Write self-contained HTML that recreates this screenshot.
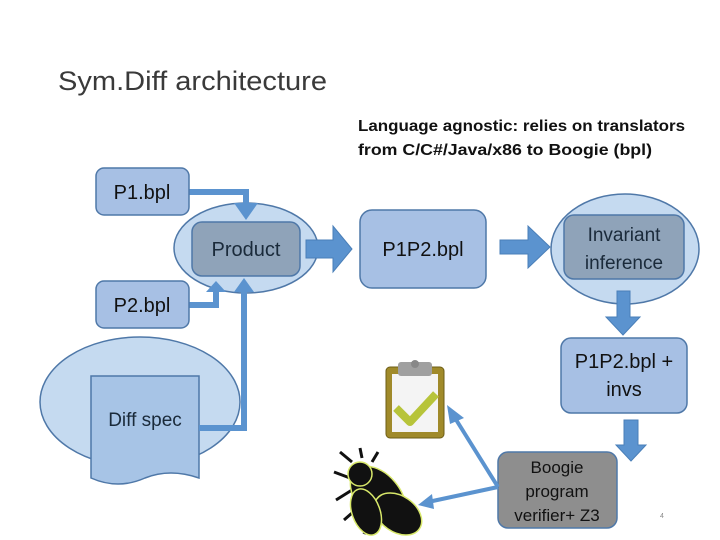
<!DOCTYPE html>
<html><head><style>
body{margin:0;background:#fff;}
svg{display:block;font-family:"Liberation Sans",sans-serif;}
</style></head><body>
<svg width="720" height="540" viewBox="0 0 720 540">
<text x="58" y="90" font-size="27" fill="#3a3a3a" textLength="269" lengthAdjust="spacingAndGlyphs">Sym.Diff architecture</text>
<text x="358" y="131" font-size="16" font-weight="bold" fill="#111" textLength="327" lengthAdjust="spacingAndGlyphs">Language agnostic: relies on translators</text>
<text x="358" y="155" font-size="16" font-weight="bold" fill="#111" textLength="294" lengthAdjust="spacingAndGlyphs">from C/C#/Java/x86 to Boogie (bpl)</text>

<!-- Diff spec ellipse -->
<ellipse cx="140" cy="402" rx="100" ry="65" fill="#c5daf0" stroke="#4f78a8" stroke-width="1.5"/>
<path d="M91,376 H199 V478 Q170,468 145,478 Q118,490 91,478 Z" fill="#a7c4e6" stroke="#4f78a8" stroke-width="1.5"/>
<text x="145" y="426" font-size="19" text-anchor="middle" fill="#1a2a3a">Diff spec</text>

<!-- Product ellipse -->
<ellipse cx="246" cy="248" rx="72" ry="45" fill="#c5daf0" stroke="#4f78a8" stroke-width="1.5"/>
<rect x="192" y="222" width="108" height="54" rx="10" fill="#8fa3b9" stroke="#4f78a8" stroke-width="1.5"/>
<text x="246" y="256" font-size="20" text-anchor="middle" fill="#1a2a3a">Product</text>

<!-- connectors -->
<g fill="none" stroke="#5b93cf" stroke-width="6">
<path d="M189,192 H246 V205"/>
<path d="M189,305 H216 V292"/>
<path d="M199,428 H244 V292"/>
</g>
<polygon points="234,203 258,203 246,220" fill="#5b93cf"/>
<polygon points="206,292 226,292 216,281" fill="#5b93cf"/>
<polygon points="234,292 254,292 244,278" fill="#5b93cf"/>

<rect x="96" y="168" width="93" height="47" rx="8" fill="#a7c0e4" stroke="#4f78a8" stroke-width="1.5"/>
<text x="142" y="199" font-size="20" text-anchor="middle" fill="#111">P1.bpl</text>
<rect x="96" y="281" width="93" height="47" rx="8" fill="#a7c0e4" stroke="#4f78a8" stroke-width="1.5"/>
<text x="142" y="312" font-size="20" text-anchor="middle" fill="#111">P2.bpl</text>

<!-- block arrows -->
<polygon points="306,240 333,240 333,226 352,249 333,272 333,258 306,258" fill="#5b93cf" stroke="#4a7fb8"/>
<polygon points="500,240 528,240 528,226 550,247 528,268 528,254 500,254" fill="#5b93cf" stroke="#4a7fb8"/>

<rect x="360" y="210" width="126" height="78" rx="12" fill="#a7c0e4" stroke="#4f78a8" stroke-width="1.5"/>
<text x="423" y="256" font-size="20" text-anchor="middle" fill="#111">P1P2.bpl</text>

<ellipse cx="625" cy="249" rx="74" ry="55" fill="#c5daf0" stroke="#4f78a8" stroke-width="1.5"/>
<rect x="564" y="215" width="120" height="64" rx="10" fill="#8fa3b9" stroke="#4f78a8" stroke-width="1.5"/>
<text x="624" y="241" font-size="19" text-anchor="middle" fill="#1a2a3a">Invariant</text>
<text x="624" y="269" font-size="19" text-anchor="middle" fill="#1a2a3a">inference</text>

<polygon points="617,291 630,291 630,317 640,317 623,335 606,317 617,317" fill="#5b93cf" stroke="#4a7fb8"/>

<rect x="561" y="338" width="126" height="75" rx="10" fill="#a7c0e4" stroke="#4f78a8" stroke-width="1.5"/>
<text x="624" y="368" font-size="20" text-anchor="middle" fill="#111">P1P2.bpl +</text>
<text x="624" y="396" font-size="20" text-anchor="middle" fill="#111">invs</text>

<polygon points="624,420 638,420 638,445 646,445 631,461 616,445 624,445" fill="#5b93cf" stroke="#4a7fb8"/>

<rect x="498" y="452" width="119" height="76" rx="10" fill="#8e8e8e" stroke="#4f78a8" stroke-width="1.5"/>
<text x="557" y="473" font-size="17" text-anchor="middle" fill="#111">Boogie</text>
<text x="557" y="497" font-size="17" text-anchor="middle" fill="#111">program</text>
<text x="557" y="521" font-size="17" text-anchor="middle" fill="#111">verifier+ Z3</text>
<text x="660" y="518" font-size="7" fill="#888">4</text>

<!-- arrows to icons -->
<g stroke="#5b93cf" stroke-width="4" fill="none">
<path d="M498,487 L455,418"/>
<path d="M498,487 L428,502"/>
</g>
<polygon points="447,405 464,418 450,424" fill="#5b93cf"/>
<polygon points="418,505 432,494 434,509" fill="#5b93cf"/>

<!-- clipboard -->
<rect x="386" y="367" width="58" height="71" rx="4" fill="#a08a2a" stroke="#6d5d15"/>
<rect x="392" y="374" width="46" height="58" fill="#f4f4f4"/>
<rect x="398" y="362" width="34" height="14" rx="3" fill="#a0a0a0"/>
<circle cx="415" cy="364" r="4" fill="#888"/>
<path d="M396,408 L410,422 L436,394" stroke="#b7c43a" stroke-width="8" fill="none" stroke-linejoin="round"/>

<!-- bug -->
<g stroke="#111" stroke-width="3" fill="none">
<path d="M352,462 L340,452 M362,458 L360,448 M372,462 L378,452 M350,478 L334,472 M352,490 L336,500 M360,506 L344,520 M372,516 L364,534"/>
</g>
<g fill="#111" stroke="#d8e86a" stroke-width="1.5">
<ellipse cx="378" cy="496" rx="22" ry="34" transform="rotate(-40 378 496)"/>
<ellipse cx="398" cy="514" rx="18" ry="26" transform="rotate(-55 398 514)"/>
<ellipse cx="366" cy="512" rx="14" ry="24" transform="rotate(-20 366 512)"/>
<circle cx="360" cy="474" r="12"/>
</g>
</svg>
</body></html>
